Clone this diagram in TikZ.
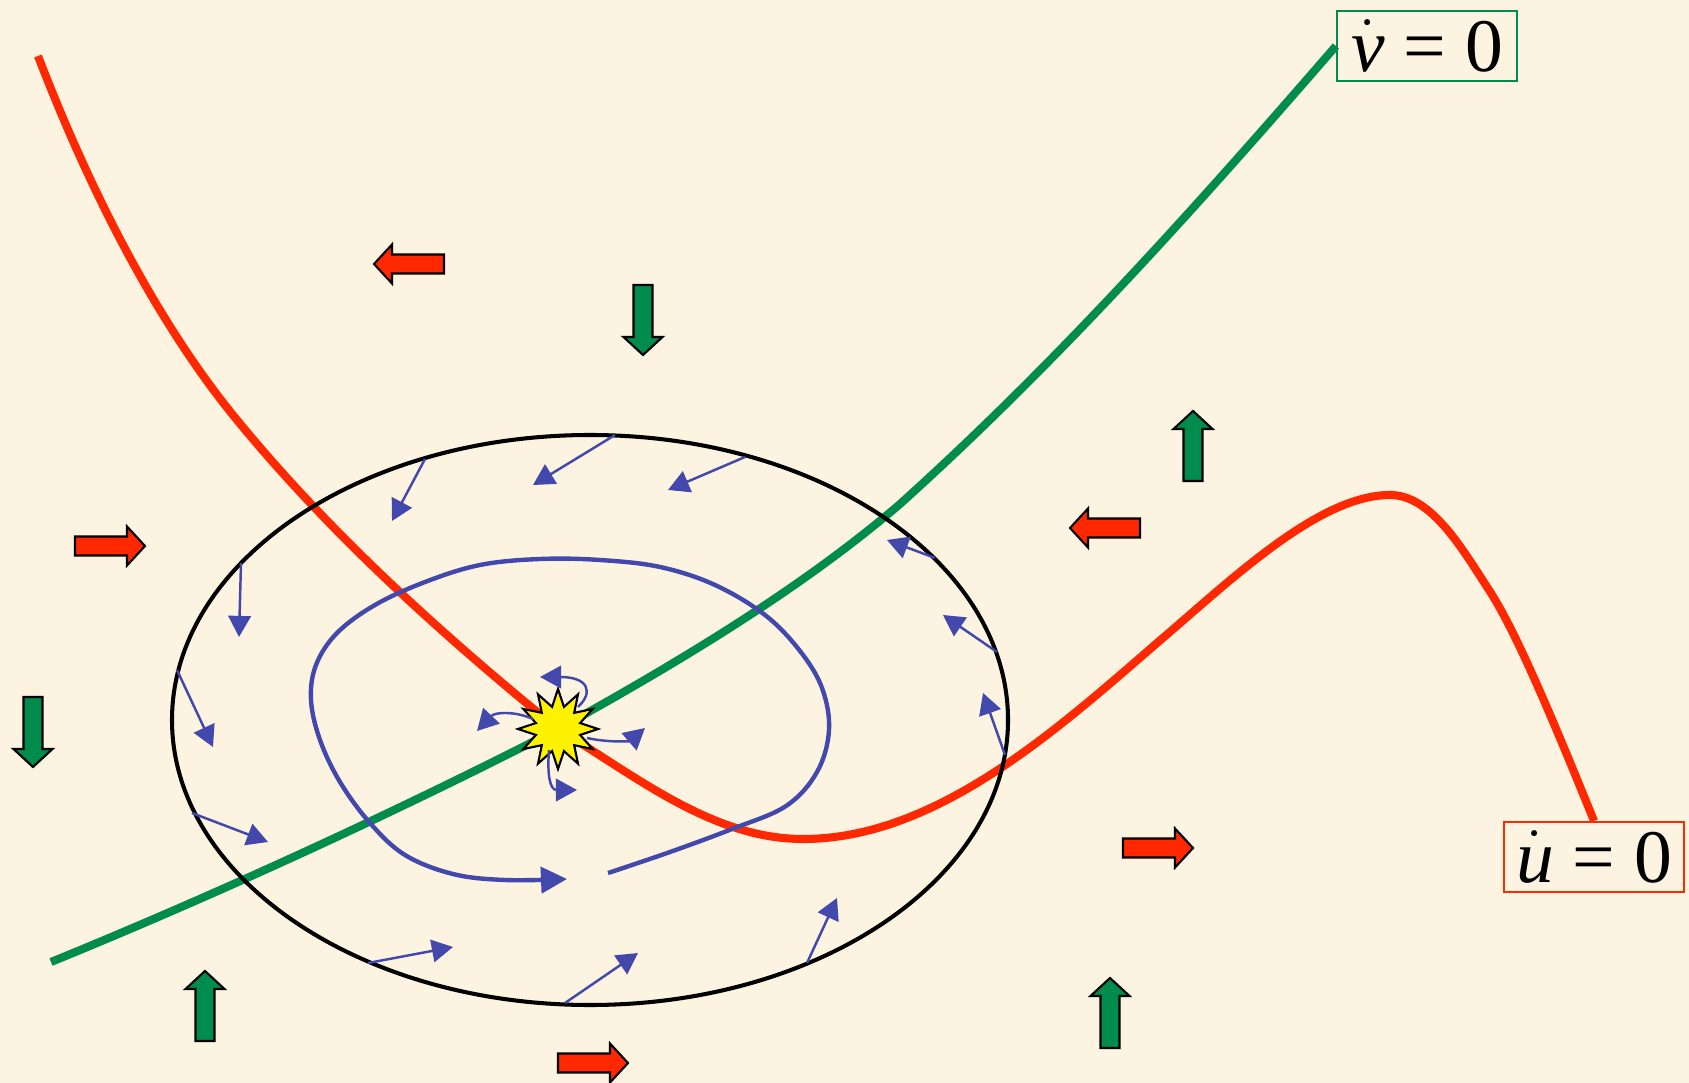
\documentclass[tikz,border=0pt]{standalone}
\usepackage{fontspec}
\setmainfont{Liberation Serif}
\usetikzlibrary{shapes,arrows.meta}
\definecolor{bgcream}{RGB}{252,243,224}
\definecolor{nullred}{RGB}{255,40,0}
\definecolor{nullgreen}{RGB}{0,140,76}
\definecolor{flowblue}{RGB}{66,72,172}

\begin{document}
\begin{tikzpicture}[x=0.01cm, y=-0.01cm,
    vec/.style={flowblue, line width=0.7pt, -{Triangle[length=6pt, width=6.4pt]}},
    orbit/.style={flowblue, line width=1.25pt, -{Triangle[length=7.4pt, width=7.4pt]}},
    namebox/.style={line width=0.6pt, minimum width=1.8cm, minimum height=0.7cm,
        inner sep=0pt, font=\fontsize{21.5}{25}\selectfont},
    blockarrow/.pic={\filldraw[fill=#1, draw=black, line width=0.6pt]
        (-35,-9.5) -- (17,-9.5) -- (17,-19.5) -- (35,0) -- (17,19.5) -- (17,9.5) -- (-35,9.5) -- cycle;}]

    % Background
    \path[use as bounding box, fill=bgcream] (0,0) rectangle (1689,1083);

    % Equilibrium and labels
    \coordinate (eqpt) at (558,729);
    \node[namebox, draw=nullgreen] (vdot) at (1427,46) {$\dot{\mbox{\itshape v}}$ = 0};
    \node[namebox, draw=nullred] (udot) at (1594,857) {$\dot{\mbox{\itshape u}}$ = 0};

    % Nullclines
    \draw[nullred, line width=2.3pt] (38,56) .. controls (98,212) and (167,335) .. (237,420)
        .. controls (337,542) and (457,647) .. (eqpt)
        .. controls (637,777) and (713,839) .. (803,839)
        .. controls (940,839) and (1064,723) .. (1164,637)
        .. controls (1234,577) and (1320,495) .. (1390,495)
        .. controls (1430,495) and (1460,545) .. (1487,587)
        .. controls (1512,624) and (1545,700) .. (udot.north);
    \draw[nullgreen, line width=2.3pt] (51,962) .. controls (220,893) and (400,810) .. (eqpt)
        .. controls (672,666) and (800,590) .. (900,504)
        .. controls (1050,369) and (1186,219) .. (vdot.west);

    % Trajectory
    \draw[orbit] plot[smooth, tension=0.6] coordinates {(608,873) (670,852) (732,829) (786,806)
        (817,772) (829,730) (822,688) (800,651) (765,615) (715,585) (660,567) (600,560) (540,559)
        (480,565) (425,582) (375,605) (337,633) (316,665) (311,700) (320,740) (340,782) (370,823)
        (405,855) (453,874) (505,880) (567,879)};

    % Trapping region
    \draw[line width=1.15pt] (590,720) ellipse [x radius=418, y radius=285];

    % Vectors on the boundary
    \draw[vec] (615,435) -- (533,485);
    \draw[vec] (745,457) -- (668,490);
    \draw[vec] (425,459) -- (392,521);
    \draw[vec] (241,563) -- (239,637);
    \draw[vec] (177,670) -- (213,747);
    \draw[vec] (192,813) -- (268,842);
    \draw[vec] (368,963) -- (453,947);
    \draw[vec] (565,1003) -- (638,953);
    \draw[vec] (807,963) -- (837,898);
    \draw[vec] (1005,755) -- (983,693);
    \draw[vec] (997,652) -- (943,615);
    \draw[vec] (935,558) -- (887,540);

    % Unstable point
    \node[star, star points=12, star point ratio=1.75, minimum size=0.8cm, inner sep=0pt,
        fill=yellow, draw=black, line width=0.6pt] (eq) at (eqpt) {};
    \draw[vec] (578,707) .. controls (594,692) and (588,677) .. (540,677);
    \draw[vec] (533,719) .. controls (515,711) and (495,712) .. (477,731);
    \draw[vec] (587,738) .. controls (610,743) and (630,741) .. (645,728);
    \draw[vec] (549,750) .. controls (547,775) and (550,790) .. (577,790);

    % Direction of u
    \pic[rotate=180] at (409,264) {blockarrow=nullred};
    \pic[rotate=180] at (1105,528) {blockarrow=nullred};
    \pic at (110,546) {blockarrow=nullred};
    \pic at (1158,848) {blockarrow=nullred};
    \pic at (593,1063) {blockarrow=nullred};

    % Direction of v
    \pic[rotate=-90] at (643,320) {blockarrow=nullgreen};
    \pic[rotate=-90] at (33,732) {blockarrow=nullgreen};
    \pic[rotate=90] at (1193,446) {blockarrow=nullgreen};
    \pic[rotate=90] at (205,1006) {blockarrow=nullgreen};
    \pic[rotate=90] at (1110,1013) {blockarrow=nullgreen};
\end{tikzpicture}
\end{document}
